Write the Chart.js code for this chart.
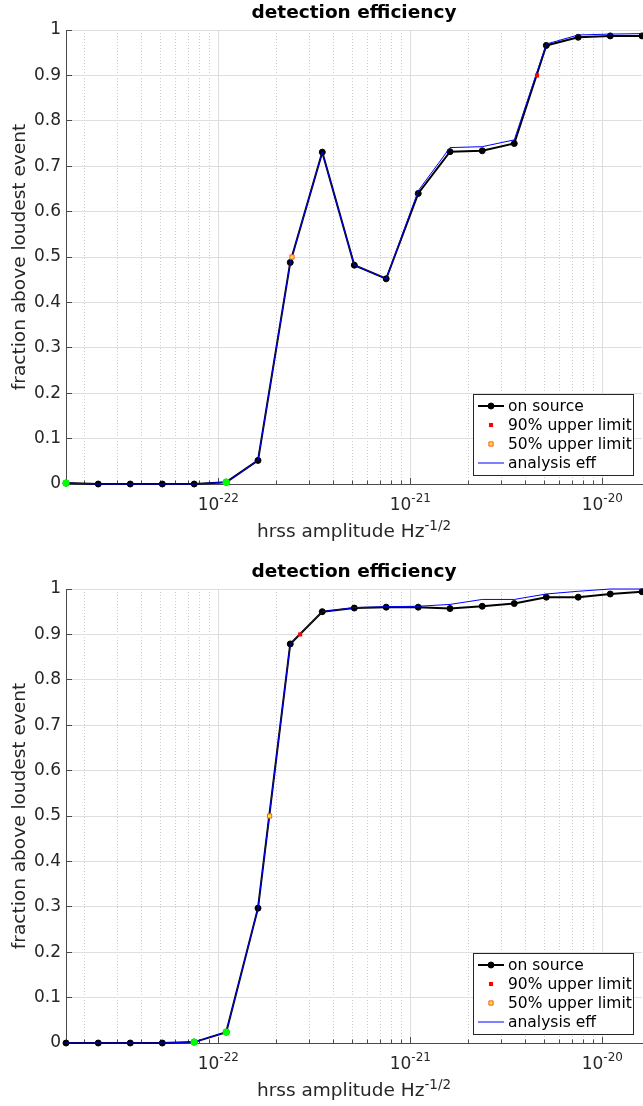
<!DOCTYPE html>
<html>
<head>
<meta charset="utf-8">
<script src="https://cdn.jsdelivr.net/npm/chart.js@4.4.1/dist/chart.umd.min.js"></script>
<style>
  html, body { margin: 0; padding: 0; background: #ffffff; }
  canvas { display: block; }
</style>
</head>
<body>
<canvas id="effTop" width="643" height="559"></canvas>
<canvas id="effBottom" width="643" height="547"></canvas>
<script>
// Injected amplitudes (hrss, Hz^-1/2), shared by both panels
const hrss = [1.61e-23, 2.37e-23, 3.48e-23, 5.11e-23, 7.49e-23, 1.10e-22, 1.61e-22,
              2.37e-22, 3.48e-22, 5.11e-22, 7.49e-22, 1.10e-21, 1.61e-21, 2.37e-21,
              3.48e-21, 5.11e-21, 7.49e-21, 1.10e-20, 1.61e-20];

// Upper panel
const topOnSource = [0.002, 0, 0, 0, 0, 0.004, 0.052, 0.488, 0.731, 0.482, 0.452, 0.640,
                     0.732, 0.734, 0.750, 0.966, 0.984, 0.987, 0.987];
const topAnalysisEff = [0.002, 0, 0, 0, 0, 0.004, 0.052, 0.488, 0.731, 0.482, 0.452, 0.646,
                        0.741, 0.743, 0.758, 0.969, 0.989, 0.991, 0.992];
const topFlagged = [0, 5];
const topLimitHrss = [4.57e-21, 2.42e-22];   // 90%, 50% upper limits

// Lower panel
const bottomOnSource = [0, 0, 0, 0, 0.002, 0.024, 0.297, 0.879, 0.950, 0.958, 0.960, 0.960,
                        0.957, 0.962, 0.968, 0.982, 0.982, 0.989, 0.994];
const bottomAnalysisEff = [0, 0, 0, 0, 0.002, 0.024, 0.297, 0.879, 0.950, 0.959, 0.961, 0.962,
                           0.966, 0.977, 0.977, 0.989, 0.995, 1.0, 1.0];
const bottomFlagged = [4, 5];
const bottomLimitHrss = [2.67e-22, 1.85e-22];

const limitLevels = [0.9, 0.5];
const decadeExponents = [-23, -22, -21, -20];
const yTickValues = [0, 0.1, 0.2, 0.3, 0.4, 0.5, 0.6, 0.7, 0.8, 0.9, 1];

const FONT = '"DejaVu Sans", "Liberation Sans", sans-serif';
const INK = '#262626';
const AXIS = '#4a4a4a';

function isDecade(v) {
  const l = Math.log10(v);
  return Math.abs(l - Math.round(l)) < 1e-6;
}
function crisp(p) { return Math.round(p - 0.5) + 0.5; }

// log-axis grid positions: 1..9 x 10^n
const logGridValues = [];
decadeExponents.forEach(e => {
  for (let k = 1; k <= 9; k++) logGridValues.push(Number(k + 'e' + e));
});

// Axis decorations: inward ticks, 10^n labels, x label and the boxed legend
const matlabAxes = {
  id: 'matlabAxes',
  beforeDatasetsDraw(chart) {
    const { ctx, chartArea: a, scales: { x, y } } = chart;
    ctx.save();
    ctx.strokeStyle = AXIS;
    ctx.lineWidth = 1;
    ctx.beginPath();
    y.ticks.forEach(t => {
      const py = crisp(y.getPixelForValue(t.value));
      ctx.moveTo(a.left, py); ctx.lineTo(a.left + 6, py);
    });
    x.ticks.forEach(t => {
      const px = crisp(x.getPixelForValue(t.value));
      const len = isDecade(t.value) ? 6 : 3.5;
      ctx.moveTo(px, a.bottom); ctx.lineTo(px, a.bottom - len);
    });
    ctx.stroke();
    ctx.restore();
  },
  afterDraw(chart, args, opts) {
    const { ctx, chartArea: a, scales: { x } } = chart;
    ctx.save();
    ctx.fillStyle = INK;
    ctx.textBaseline = 'alphabetic';
    ctx.textAlign = 'left';

    // decade labels with superscript exponents
    x.ticks.filter(t => isDecade(t.value)).forEach(t => {
      const px = x.getPixelForValue(t.value);
      const base = '10';
      const sup = String(Math.round(Math.log10(t.value)));
      ctx.font = '17px ' + FONT;
      const wb = ctx.measureText(base).width;
      ctx.font = '12px ' + FONT;
      const ws = ctx.measureText(sup).width;
      const left = px - (wb + ws) / 2;
      ctx.font = '17px ' + FONT;
      ctx.fillText(base, left, opts.tickBaseline);
      ctx.font = '12px ' + FONT;
      ctx.fillText(sup, left + wb, opts.tickBaseline - 8);
    });

    // x axis label
    const main = 'hrss amplitude Hz';
    const sup = '-1/2';
    ctx.font = '18.5px ' + FONT;
    const wm = ctx.measureText(main).width;
    ctx.font = '13.5px ' + FONT;
    const ws = ctx.measureText(sup).width;
    const lx = (a.left + a.right) / 2 - (wm + ws) / 2;
    ctx.font = '18.5px ' + FONT;
    ctx.fillText(main, lx, opts.titleBaseline);
    ctx.font = '13.5px ' + FONT;
    ctx.fillText(sup, lx + wm, opts.titleBaseline - 7.5);

    // legend box in the lower right corner of the axes
    const entries = chart.data.datasets.filter(d => d.label);
    const boxW = 160, rowH = 19;
    const boxH = 12 + rowH * entries.length - 7;
    const right = a.right - 9, bottom = a.bottom - 9;
    const left = right - boxW, top = bottom - boxH;
    ctx.fillStyle = '#ffffff';
    ctx.fillRect(left, top, boxW, boxH);
    ctx.strokeStyle = INK;
    ctx.lineWidth = 1;
    ctx.strokeRect(crisp(left), crisp(top), Math.round(boxW), Math.round(boxH));
    entries.forEach((d, i) => {
      const cy = top + 12 + rowH * i;
      if (d.showLine !== false) {
        ctx.strokeStyle = d.borderColor;
        ctx.lineWidth = d.borderWidth;
        ctx.beginPath();
        ctx.moveTo(left + 5, cy); ctx.lineTo(left + 31, cy);
        ctx.stroke();
      }
      if (d.pointRadius > 0) {
        ctx.fillStyle = d.pointBackgroundColor;
        ctx.strokeStyle = d.pointBorderColor || d.pointBackgroundColor;
        ctx.lineWidth = d.pointBorderWidth || 0;
        Chart.helpers.drawPoint(ctx, {
          pointStyle: d.pointStyle || 'circle', rotation: 0,
          radius: d.pointRadius, borderWidth: d.pointBorderWidth || 0
        }, left + 18, cy);
      }
      ctx.fillStyle = '#000000';
      ctx.font = '15.5px ' + FONT;
      ctx.textBaseline = 'middle';
      ctx.fillText(d.label, left + 35, cy + 0.5);
    });
    ctx.restore();
  }
};

function points(xs, ys) { return xs.map((v, i) => ({ x: v, y: ys[i] })); }

function makeChart(id, canvasHeight, onSource, analysisEff, flagged, limitHrss) {
  const datasets = [
    {
      label: 'on source', data: points(hrss, onSource),
      borderColor: '#000000', borderWidth: 2,
      pointRadius: 3, pointBorderWidth: 1,
      pointBackgroundColor: '#000000', pointBorderColor: '#000000',
      order: 5
    },
    {
      label: '90% upper limit', data: [{ x: limitHrss[0], y: limitLevels[0] }],
      showLine: false, pointStyle: 'rect', pointRadius: 2.9, pointBorderWidth: 0,
      pointBackgroundColor: '#ff0000', pointBorderColor: '#ff0000', order: 3
    },
    {
      label: '50% upper limit', data: [{ x: limitHrss[1], y: limitLevels[1] }],
      showLine: false, pointStyle: 'rect', pointRadius: 3, pointBorderWidth: 1,
      pointBackgroundColor: '#ffe033', pointBorderColor: '#ff5a1f', order: 2
    },
    {
      label: 'analysis eff', data: points(hrss, analysisEff),
      borderColor: '#0000ff', borderWidth: 1, pointRadius: 0, order: 4
    },
    {
      label: '', data: flagged.map(i => ({ x: hrss[i], y: onSource[i] })),
      showLine: false, pointRadius: 3.4, pointBorderWidth: 0.6,
      pointBackgroundColor: '#00ff00', pointBorderColor: '#00ff00', order: 1
    }
  ];

  return new Chart(document.getElementById(id), {
    type: 'line',
    data: { datasets },
    plugins: [matlabAxes],
    options: {
      responsive: false,
      animation: false,
      events: [],
      devicePixelRatio: 1,
      layout: { autoPadding: false, padding: { left: 0, right: 1, top: 0, bottom: 0 } },
      elements: { line: { tension: 0 } },
      datasets: { line: { clip: 8 } },
      plugins: {
        legend: { display: false },
        tooltip: { enabled: false },
        title: {
          display: true, fullSize: false,
          text: 'detection efficiency', color: '#000000',
          font: { family: FONT, size: 18.5, weight: 'bold', lineHeight: 1.2 },
          padding: { top: 2, bottom: 5.8 }
        },
        matlabAxes: { tickBaseline: 510, titleBaseline: 537 }
      },
      scales: {
        x: {
          type: 'logarithmic',
          min: hrss[0], max: hrss[hrss.length - 1],
          afterBuildTicks: s => {
            s.ticks = logGridValues
              .filter(v => v >= s.min * 1.0001 && v <= s.max)
              .map(v => ({ value: v, major: isDecade(v) }));
          },
          afterFit: s => { s.height = canvasHeight - 484; },
          ticks: { display: false },
          grid: {
            drawTicks: false, lineWidth: 1,
            color: c => (c.tick && !isDecade(c.tick.value)) ? '#cdcdcd' : '#dedede'
          },
          border: {
            display: true, color: AXIS, width: 1,
            dash: c => (c.tick && !isDecade(c.tick.value)) ? [1, 2] : []
          }
        },
        y: {
          type: 'linear', min: 0, max: 1,
          afterBuildTicks: s => { s.ticks = yTickValues.map(v => ({ value: v })); },
          afterFit: s => { s.width = 66; },
          ticks: {
            color: INK, padding: 5,
            font: { family: FONT, size: 17 },
            callback: v => String(Math.round(v * 10) / 10)
          },
          grid: { drawTicks: false, lineWidth: 1, color: '#dedede' },
          border: { display: true, color: AXIS, width: 1 },
          title: {
            display: true, text: 'fraction above loudest event', color: INK,
            font: { family: FONT, size: 18.5, lineHeight: 1.2 },
            padding: { top: 9, bottom: 0 }
          }
        }
      }
    }
  });
}

makeChart('effTop', 559, topOnSource, topAnalysisEff, topFlagged, topLimitHrss);
makeChart('effBottom', 547, bottomOnSource, bottomAnalysisEff, bottomFlagged, bottomLimitHrss);
</script>
</body>
</html>
